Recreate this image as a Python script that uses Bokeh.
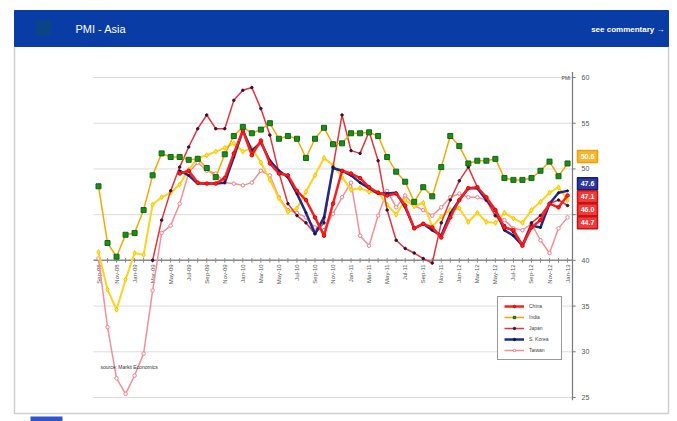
import numpy as np
from bokeh.plotting import figure
from bokeh.models import Range1d, Legend, LegendItem
from bokeh.embed import file_html
from bokeh.resources import INLINE
from bokeh.core.properties import value

nan = float("nan")

# ---------------- data ----------------
tick_labels = ["Sep-08", "Nov-08", "Jan-09", "Mar-09", "May-09", "Jul-09", "Sep-09",
               "Nov-09", "Jan-10", "Mar-10", "May-10", "Jul-10", "Sep-10", "Nov-10",
               "Jan-11", "Mar-11", "May-11", "Jul-11", "Sep-11", "Nov-11", "Jan-12",
               "Mar-12", "May-12", "Jul-12", "Sep-12", "Nov-12", "Jan-13"]
y_ticks = [25, 30, 35, 40, 45, 50, 55, 60]

india = [48.1, 41.9, 40.4, 42.8, 43.0, 45.5, 49.3, 51.7, 51.3, 51.3,
         51.0, 51.1, 50.1, 49.1, 51.6, 53.6, 54.6, 53.9, 54.3, 55.0,
         53.3, 53.6, 53.3, 51.2, 53.3, 54.5, 52.7, 52.8, 53.9, 53.9,
         54.0, 53.6, 51.3, 49.7, 48.6, 46.4, 48.0, 47.0, 50.2, 53.6,
         52.5, 50.6, 50.9, 50.9, 51.1, 49.0, 48.8, 48.8, 49.0, 49.8,
         50.8, 49.2, 50.6]
other = [40.9, 36.8, 34.6, 37.9, 40.8, 40.6, 46.1, 46.9, 47.4, 48.3,
         49.9, 51.2, 51.5, 51.9, 52.3, 52.8, 51.9, 52.3, 50.7, 48.8,
         46.8, 45.3, 45.7, 47.5, 49.3, 51.2, 50.4, 49.1, 47.7, 47.9,
         47.5, 47.4, 46.1, 45.0, 46.6, 45.9, 46.3, 43.7, 44.8, 45.5,
         45.7, 44.2, 45.2, 44.2, 44.1, 45.2, 44.6, 44.1, 45.5, 46.4,
         47.4, 48.0, 46.6]
korea = [nan] * 9 + [49.8, 49.3, 48.4, 48.4, 48.4, 48.5, 51.3, 54.2, 52.0, 52.9,
                     50.9, 49.8, 49.1, 47.3, 45.2, 42.9, 44.7, 50.1, 49.8, 49.3,
                     48.5, 47.9, 47.3, 47.3, 47.4, 45.8, 43.5, 44.0, 43.3, 42.7,
                     45.1, 46.6, 47.9, 47.9, 46.6, 45.5, 43.3, 42.7, 41.6, 43.8,
                     43.6, 46.2, 47.4, 47.6]
china = [nan] * 9 + [49.5, 49.8, 48.5, 48.4, 48.4, 49.0, 51.7, 54.2, 51.5, 53.1,
                     50.6, 49.5, 49.3, 47.6, 46.6, 44.7, 42.7, 46.2, 49.8, 49.5,
                     49.0, 48.0, 47.4, 47.1, 47.3, 46.0, 43.5, 44.0, 43.6, 42.5,
                     44.7, 46.6, 47.9, 48.0, 46.9, 45.5, 43.6, 43.3, 41.6, 43.6,
                     44.4, 46.2, 45.8, 47.1]
japan = [nan] * 6 + [40.0, 44.4, 47.6, 50.2, 52.4, 54.4, 55.9, 54.4, 54.4, 57.5,
                     58.6, 58.9, 56.6, 53.7, 49.6, 46.2, 44.9, 44.1, 42.9, 44.1,
                     50.2, 55.9, 52.0, 51.7, 54.1, 50.9, 45.5, 42.2, 41.3, 40.8,
                     40.2, 39.7, 44.1, 46.6, 48.7, 50.2, 48.0, 46.6, 44.9, 43.8,
                     43.1, 41.8, 44.1, 44.9, 46.2, 46.6, 46.0]
taiwan = [40.2, 32.7, 27.1, 25.4, 27.4, 29.8, 36.7, 43.0, 43.8, 46.2,
          49.6, 50.7, 49.8, 49.5, 48.5, 48.4, 48.2, 48.5, 49.8, 49.3,
          46.9, 45.5, 45.2, 44.7, 43.6, 43.3, 45.1, 46.9, 48.5, 42.7,
          41.6, 44.9, 47.6, 45.8, 47.1, 46.0, 45.5, 44.9, 45.8, 46.9,
          47.3, 46.9, 46.9, 46.6, 44.9, 44.4, 43.5, 43.3, 44.0, 42.2,
          40.8, 43.5, 44.7]

axis_value = 40
xs = list(range(len(india)))
tick_x = xs[::2]

# ---------------- page geometry (pixels) ----------------
W, H = 677, 421
X0, KX = 98.0, 9.02          # page x of first month, px per month
Y_LO, KY = 397.0, 320.0 / 35  # page y of 25, px per PMI point


def dx(px):
    return (px - X0) / KX


def dy(py):
    return y_ticks[0] + (Y_LO - py) / KY


FONT = "Liberation Sans"
p = figure(width=W, height=H, output_backend="svg", toolbar_location=None,
           x_range=Range1d(dx(0), dx(W)), y_range=Range1d(dy(H), dy(0)),
           x_axis_location=None, y_axis_location=None, min_border=0,
           outline_line_color=None, background_fill_color="white",
           border_fill_color="white")
p.grid.visible = False

x_lo, x_hi = xs[0] - 0.55, xs[-1] + 0.55

# ---------------- page chrome ----------------
p.line([dx(14), dx(14), dx(668), dx(668)], [dy(46), dy(413), dy(413), dy(46)],
       line_color="#cfcfcf", line_width=1.5)
p.quad(left=[dx(14)], right=[dx(668)], top=[dy(10)], bottom=[dy(46)],
       fill_color="#0A3CA6", line_color="#0A3CA6")
p.quad(left=[dx(36)], right=[dx(50)], top=[dy(20)], bottom=[dy(35)],
       fill_color="#0B4684", line_color=None)
p.quad(left=[dx(30)], right=[dx(62)], top=[dy(416)], bottom=[dy(421)],
       fill_color="#2F55C8", line_color=None)
p.text(x=[dx(75)], y=[dy(28)], text=["PMI - Asia"], text_color="white",
       text_font_size="11px", text_baseline="middle", text_font=value(FONT))
p.text(x=[dx(664)], y=[dy(29)], text=["see commentary \u2192"], text_color="white",
       text_font_size="8px", text_font_style="bold", text_align="right",
       text_baseline="middle", text_font=value(FONT))

# ---------------- grid and axes ----------------
p.segment(x0=[x_lo] * len(y_ticks), x1=[x_hi] * len(y_ticks), y0=y_ticks, y1=y_ticks,
          line_color="#dcdcdc", line_width=1)
# right value axis
p.segment(x0=[x_hi], x1=[x_hi], y0=[y_ticks[0] - 0.3], y1=[y_ticks[-1] + 0.6],
          line_color="#777777", line_width=1.2)
p.segment(x0=[x_hi] * len(y_ticks), x1=[x_hi + 0.35] * len(y_ticks), y0=y_ticks,
          y1=y_ticks, line_color="#777777", line_width=1)
p.text(x=[x_hi] * len(y_ticks), y=y_ticks, text=[str(t) for t in y_ticks],
       x_offset=9, text_baseline="middle", text_font_size="7px",
       text_color="#555555", text_font=value(FONT))
p.text(x=[x_hi], y=[y_ticks[-1]], text=["PMI"], x_offset=-2, text_align="right",
       text_baseline="middle", text_font_size="5px", text_color="#444444",
       text_font=value(FONT))
# category axis crossing at 40
p.segment(x0=[x_lo], x1=[x_hi], y0=[axis_value], y1=[axis_value],
          line_color="#8a8a8a", line_width=1.5)
p.segment(x0=xs, x1=xs, y0=[axis_value - 0.25] * len(xs),
          y1=[axis_value + 0.25] * len(xs), line_color="#8a8a8a", line_width=1)
p.text(x=tick_x, y=[axis_value] * len(tick_x), text=tick_labels, angle=np.pi / 2,
       text_align="right", text_baseline="middle", y_offset=4,
       text_font_size="6px", text_color="#555555", text_font=value(FONT))

# ---------------- series ----------------
r_tw_l = p.line(xs, taiwan, line_color="#F2909A", line_width=1.5)
r_tw_m = p.scatter(xs, taiwan, marker="circle", size=3.5, fill_color="white",
                   line_color="#EE8089", line_width=1)
p.line(xs, other, line_color="#FFD21F", line_width=2)
p.scatter(xs, other, marker="diamond", size=5, fill_color="#FFE640",
          line_color="#F5C800")
r_jp_l = p.line(xs, japan, line_color="#E8323C", line_width=1.5)
r_jp_m = p.scatter(xs, japan, marker="circle", size=2.5, fill_color="#3a1030",
                   line_color="#3a1030")
r_kr_l = p.line(xs, korea, line_color="#1F2A8A", line_width=2.5)
r_kr_m = p.scatter(xs, korea, marker="circle", size=2, fill_color="#10164a",
                   line_color="#10164a")
r_cn_l = p.line(xs, china, line_color="#FF1E1E", line_width=2.5)
r_cn_m = p.scatter(xs, china, marker="circle", size=3.5, fill_color="#FF2020",
                   line_color="#E00000")
r_in_l = p.line(xs, india, line_color="#F2A900", line_width=1.5)
r_in_m = p.scatter(xs, india, marker="square", size=5, fill_color="#1C8C1C",
                   line_color="#0E6A0E")

legend = Legend(items=[
    LegendItem(label="China", renderers=[r_cn_l, r_cn_m]),
    LegendItem(label="India", renderers=[r_in_l, r_in_m]),
    LegendItem(label="Japan", renderers=[r_jp_l, r_jp_m]),
    LegendItem(label="S. Korea", renderers=[r_kr_l, r_kr_m]),
    LegendItem(label="Taiwan", renderers=[r_tw_l, r_tw_m]),
], location=(497, H - 360), label_text_font_size="5px", label_text_font=FONT,
    glyph_width=20, glyph_height=6, label_height=6, label_width=26, spacing=5,
    padding=6, margin=0, border_line_color="#333333", border_line_width=1,
    background_fill_color="white", background_fill_alpha=1)
p.add_layout(legend)

# latest-value boxes at the right of the axis (stacked, nudged up a little)
box_series = [(india, "#F7B733", "#F0A000"), (korea, "#2A3A9E", "#141C6E"),
              (china, "#F23A3A", "#C81010"), (japan, "#F23A3A", "#C81010"),
              (taiwan, "#F23A3A", "#C81010")]
gap = 13 / KY
nudge = 7 / KY
box_x = x_hi + 15 / KX
box_y, box_txt, box_fill, box_line = [], [], [], []
prev = None
for vals, fill, border in box_series:
    last = vals[-1]
    ypos = last + nudge if prev is None else min(last + nudge, prev - gap)
    prev = ypos
    box_y.append(ypos)
    box_txt.append(f"{last:.1f}")
    box_fill.append(fill)
    box_line.append(border)
p.rect(x=[box_x] * len(box_y), y=box_y, width=20 / KX, height=12 / KY,
       fill_color=box_fill, line_color=box_line, line_width=1.5)
p.text(x=[box_x] * len(box_y), y=box_y, text=box_txt, text_align="center",
       text_baseline="middle", text_font_size="7px", text_font_style="bold",
       text_color="white", text_font=value(FONT))

# source note
p.text(x=[xs[0]], y=[dy(366)], text=["source:   Markit Economics"], x_offset=2,
       text_baseline="middle", text_font_size="5px", text_color="#333333",
       text_font=value(FONT))

open("out.html", "w").write(file_html(p, INLINE))
